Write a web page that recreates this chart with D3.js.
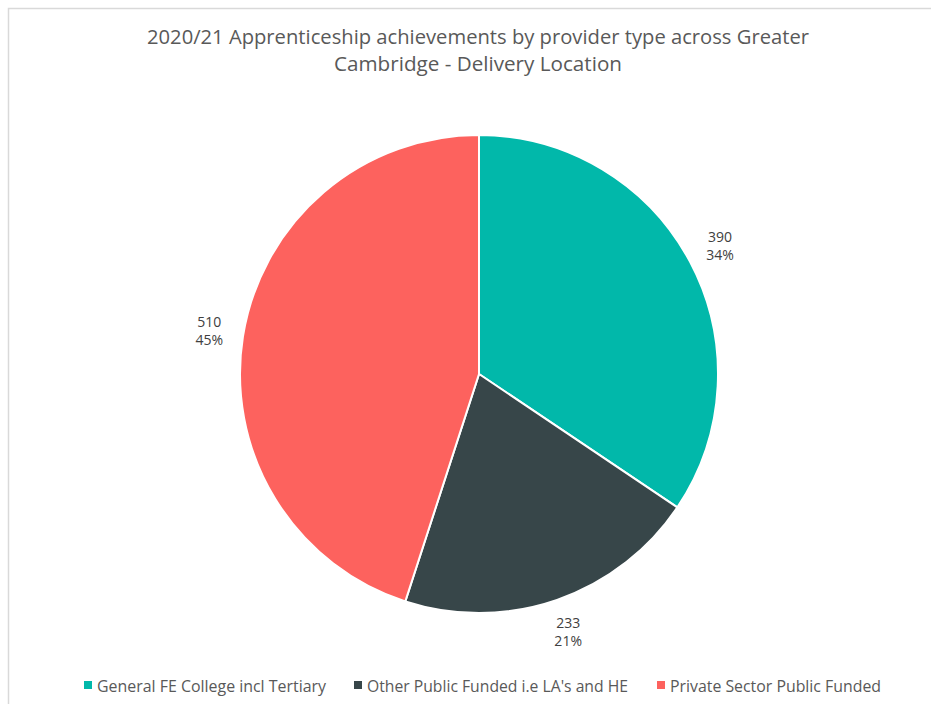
<!DOCTYPE html>
<html>
<head>
<meta charset="utf-8">
<script src="https://cdn.jsdelivr.net/npm/d3@7"></script>
<style>
  body { margin: 0; background: #fff; }
  text { font-family: "Open Sans", "Noto Sans", sans-serif; }
</style>
</head>
<body>
<svg id="chart" width="931" height="704"></svg>
<script>
// data
var categories = ["General FE College incl Tertiary", "Other Public Funded i.e LA's and HE", "Private Sector Public Funded"];
var values = [390, 233, 510];
var colors = ["#01b8aa", "#374649", "#fd625e"];
var titleLines = ["2020/21 Apprenticeship achievements by provider type across Greater", "Cambridge - Delivery Location"];

var svg = d3.select("#chart");

// chart border
svg.append("rect")
  .attr("x", 8.5).attr("y", 8.5)
  .attr("width", 940).attr("height", 720)
  .attr("fill", "none")
  .attr("stroke", "#d9d9d9")
  .attr("stroke-width", 1.5);

svg.append("g").selectAll("text")
  .data(titleLines)
  .enter().append("text")
  .attr("x", 478)
  .attr("y", function (d, i) { return 44 + i * 27; })
  .attr("text-anchor", "middle")
  .attr("font-size", 20.5)
  .attr("fill", "#595959")
  .attr("lengthAdjust", "spacingAndGlyphs")
  .attr("textLength", function (d, i) { return i == 0 ? 662 : 288; })
  .text(function (d) { return d; });

var radius = 239;
var g = svg.append("g").attr("transform", "translate(479,374)");

var pie = d3.pie().sort(null).value(function (d) { return d; });
var arcs = pie(values);
var total = d3.sum(values);

var arc = d3.arc().innerRadius(0).outerRadius(radius);
var labelArc = d3.arc().innerRadius(273).outerRadius(273);

g.selectAll("path")
  .data(arcs)
  .enter().append("path")
  .attr("d", arc)
  .attr("fill", function (d, i) { return colors[i]; })
  .attr("stroke", "#fff")
  .attr("stroke-width", 2);

var lbl = g.selectAll(".lbl")
  .data(arcs)
  .enter().append("text")
  .attr("class", "lbl")
  .attr("transform", function (d) { return "translate(" + labelArc.centroid(d) + ")"; })
  .attr("text-anchor", "middle")
  .attr("font-size", 14)
  .attr("fill", "#404040");

lbl.append("tspan").attr("x", 0).attr("y", -4)
  .text(function (d) { return d.value; });
lbl.append("tspan").attr("x", 0).attr("y", 14)
  .text(function (d) { return Math.round(d.value / total * 100) + "%"; });

// legend
var legendX = [84, 354, 657];
var legendW = [229, 261, 211];
var leg = svg.append("g").selectAll("g")
  .data(categories)
  .enter().append("g")
  .attr("transform", function (d, i) { return "translate(" + legendX[i] + ",686)"; });

leg.append("rect")
  .attr("x", 0).attr("y", -5)
  .attr("width", 8).attr("height", 8)
  .attr("fill", function (d, i) { return colors[i]; });

leg.append("text")
  .attr("x", 13).attr("y", 5.5)
  .attr("font-size", 16)
  .attr("fill", "#595959")
  .attr("lengthAdjust", "spacingAndGlyphs")
  .attr("textLength", function (d, i) { return legendW[i]; })
  .text(function (d) { return d; });
</script>
</body>
</html>
